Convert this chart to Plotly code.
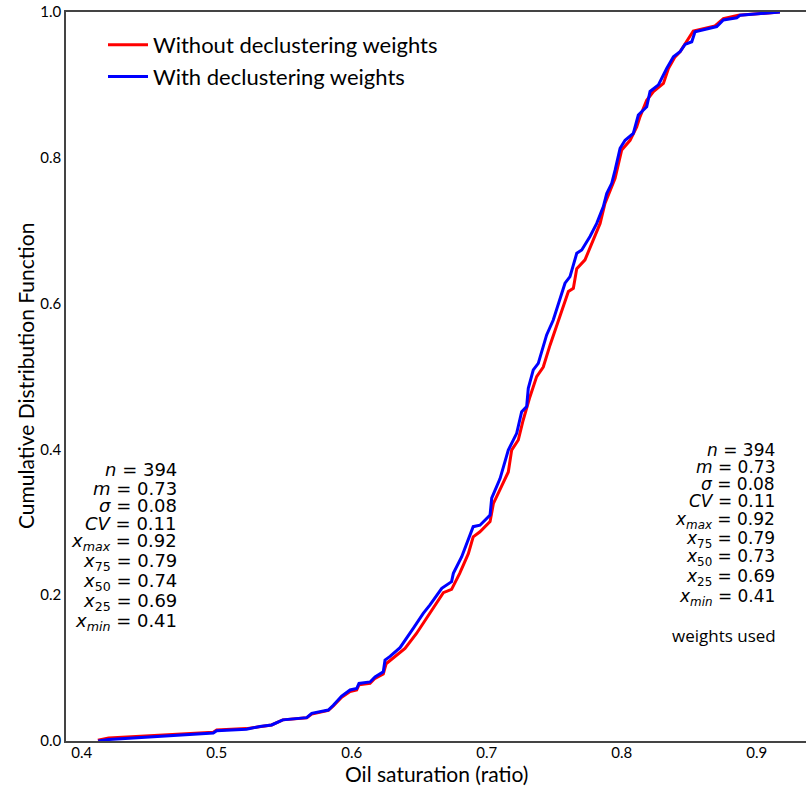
import plotly.graph_objects as go

# Values (x = oil saturation, F = cumulative probability)
red_x = [0.412, 0.420, 0.4975, 0.500, 0.522, 0.532, 0.5407, 0.549, 0.5667, 0.5704, 0.5827, 0.5864,
         0.5926, 0.5988, 0.6037, 0.6054, 0.6136, 0.6173, 0.6234, 0.6255, 0.6297, 0.6333, 0.6395,
         0.648, 0.658, 0.6679, 0.674, 0.680, 0.6864, 0.690, 0.695, 0.7025, 0.705, 0.7111, 0.716,
         0.7185, 0.7234, 0.727, 0.732, 0.7370, 0.7419, 0.7469, 0.7543, 0.7605, 0.7642, 0.7667,
         0.7728, 0.7778, 0.784, 0.7876, 0.7914, 0.7951, 0.8, 0.8062, 0.8111, 0.8136, 0.8185,
         0.8235, 0.8309, 0.8346, 0.8395, 0.8432, 0.853, 0.8691, 0.8753, 0.8864, 0.9172]
red_F = [0.001, 0.004, 0.012, 0.015, 0.017, 0.020, 0.022, 0.029, 0.032, 0.037, 0.042, 0.048,
         0.060, 0.068, 0.070, 0.077, 0.079, 0.086, 0.092, 0.106, 0.112, 0.117, 0.127,
         0.1475, 0.175, 0.2035, 0.208, 0.230, 0.257, 0.280, 0.287, 0.301, 0.326, 0.349, 0.369,
         0.399, 0.4129, 0.440, 0.472, 0.4998, 0.513, 0.543, 0.582, 0.6165, 0.621, 0.648,
         0.660, 0.6827, 0.710, 0.7375, 0.756, 0.772, 0.8107, 0.824, 0.8425, 0.8565, 0.879,
         0.891, 0.902, 0.9225, 0.9385, 0.9454, 0.974, 0.981, 0.991, 0.9956, 1.0]

blue_x = [0.4123, 0.420, 0.4975, 0.500, 0.522, 0.532, 0.5407, 0.549, 0.5667, 0.5704, 0.5827, 0.5864,
          0.5926, 0.5988, 0.6037, 0.6054, 0.6136, 0.6173, 0.6234, 0.6247, 0.6284, 0.6309, 0.6358,
          0.6456, 0.653, 0.658, 0.6667, 0.674, 0.6753, 0.6815, 0.690, 0.695, 0.7025, 0.7037,
          0.7099, 0.716, 0.7222, 0.7259, 0.7296, 0.7308, 0.7345, 0.7382, 0.7444, 0.7493, 0.7543,
          0.758, 0.7617, 0.7642, 0.7667, 0.7704, 0.7765, 0.7815, 0.7864, 0.7889, 0.7926, 0.7951,
          0.7988, 0.8025, 0.8086, 0.8123, 0.8185, 0.821, 0.8272, 0.8333, 0.8383, 0.8432, 0.8469,
          0.8519, 0.8543, 0.8704, 0.8753, 0.8852, 0.8876, 0.9172]
blue_F = [0.000, 0.002, 0.011, 0.014, 0.016, 0.020, 0.022, 0.029, 0.032, 0.038, 0.0425, 0.049,
          0.0617, 0.070, 0.072, 0.079, 0.081, 0.088, 0.095, 0.111, 0.116, 0.120, 0.128,
          0.1545, 0.175, 0.1866, 0.2094, 0.2186, 0.230, 0.2528, 0.294, 0.296, 0.310, 0.333,
          0.360, 0.399, 0.422, 0.4517, 0.4586, 0.4838, 0.509, 0.518, 0.557, 0.5775, 0.605,
          0.628, 0.637, 0.655, 0.669, 0.6735, 0.692, 0.710, 0.733, 0.751, 0.765, 0.783,
          0.813, 0.824, 0.8335, 0.8587, 0.870, 0.891, 0.900, 0.9225, 0.9385, 0.9454, 0.9556,
          0.9592, 0.973, 0.980, 0.989, 0.992, 0.9956, 1.0]

series_names = ["Without declustering weights", "With declustering weights"]

stat_labels = ["<i>n</i>", "<i>m</i>", "<i>σ</i>", "<i>CV</i>", "<i>x</i><sub><i>max</i></sub>",
               "<i>x</i><sub>75</sub>", "<i>x</i><sub>50</sub>", "<i>x</i><sub>25</sub>",
               "<i>x</i><sub><i>min</i></sub>"]
stats_unweighted = ["394", "0.73", "0.08", "0.11", "0.92", "0.79", "0.74", "0.69", "0.41"]
stats_weighted = ["394", "0.73", "0.08", "0.11", "0.92", "0.79", "0.73", "0.69", "0.41"]

x_ticks = [0.4, 0.5, 0.6, 0.7, 0.8, 0.9]
y_ticks = [0.0, 0.2, 0.4, 0.6, 0.8, 1.0]

W, H = 806, 794
L, R, T, B = 66, 0, 12, 53
PW, PH = W - L - R, H - T - B

fig = go.Figure()
fig.add_trace(go.Scatter(x=red_x, y=red_F, mode="lines", name=series_names[0],
                         line=dict(color="#ff0000", width=3), legendgroup="a"))
fig.add_trace(go.Scatter(x=blue_x, y=blue_F, mode="lines", name=series_names[1],
                         line=dict(color="#0000ff", width=3), legendgroup="b"))

def py(p):  # pixel y -> paper
    return (H - B - p) / PH

def px(p):  # pixel x -> paper
    return (p - L) / PW

left_y = [470, 488, 505, 523, 542, 562, 582, 602, 622]
right_y = [450, 467, 484, 501, 520, 539, 558, 577, 597]
STAT_FONT = "DejaVu Sans"
for lab, val, yy in zip(stat_labels, stats_unweighted, left_y):
    fig.add_annotation(x=px(179), y=py(yy), xref="paper", yref="paper", xanchor="right",
                       yanchor="middle", text=f"{lab} = {val}", showarrow=False,
                       font=dict(family=STAT_FONT, size=18, color="black"))
for lab, val, yy in zip(stat_labels, stats_weighted, right_y):
    fig.add_annotation(x=px(777), y=py(yy), xref="paper", yref="paper", xanchor="right",
                       yanchor="middle", text=f"{lab} = {val}", showarrow=False,
                       font=dict(family=STAT_FONT, size=17, color="black"))
fig.add_annotation(x=px(778), y=py(635), xref="paper", yref="paper", xanchor="right",
                   yanchor="middle", text="weights used", showarrow=False,
                   font=dict(family="Open Sans", size=17, color="black"))

LABEL_FONT = "Lato"
# axis titles
fig.add_annotation(x=px(436), y=py(773), xref="paper", yref="paper", xanchor="center",
                   yanchor="middle", text="Oil saturation (ratio)", showarrow=False,
                   font=dict(family=LABEL_FONT, size=21, color="black"))
fig.add_annotation(x=px(25), y=py(376), xref="paper", yref="paper", xanchor="center",
                   yanchor="middle", text="Cumulative Distribution Function", showarrow=False,
                   textangle=-90, font=dict(family=LABEL_FONT, size=21, color="black"))

fig.update_layout(
    width=W, height=H,
    margin=dict(l=L, r=R, t=T, b=B, autoexpand=False),
    paper_bgcolor="white", plot_bgcolor="white",
    showlegend=True,
    legend=dict(x=px(103), y=py(24), xanchor="left", yanchor="top",
                bgcolor="rgba(0,0,0,0)", font=dict(family=LABEL_FONT, size=22, color="black"),
                tracegroupgap=0, itemwidth=40),
    xaxis=dict(range=[0.3884, 0.9365], showgrid=False, zeroline=False, automargin=False,
               showline=True, linecolor="#444", linewidth=1.5, mirror=True,
               tickvals=x_ticks, ticktext=[f"{v:.1f}" for v in x_ticks],
               ticks="", ticklen=0, ticklabelstandoff=-3,
               tickfont=dict(family=LABEL_FONT, size=15, color="black")),
    yaxis=dict(range=[0, 1], showgrid=False, zeroline=False, automargin=False,
               showline=True, linecolor="#444", linewidth=1.5,
               tickvals=y_ticks, ticktext=[f"{v:.1f}" for v in y_ticks],
               ticks="", ticklen=0, tickfont=dict(family=LABEL_FONT, size=15, color="black")),
)

fig.write_html("out.html", config={"displayModeBar": False},
               post_script="document.body.style.margin='0';document.body.style.overflow='hidden';")
